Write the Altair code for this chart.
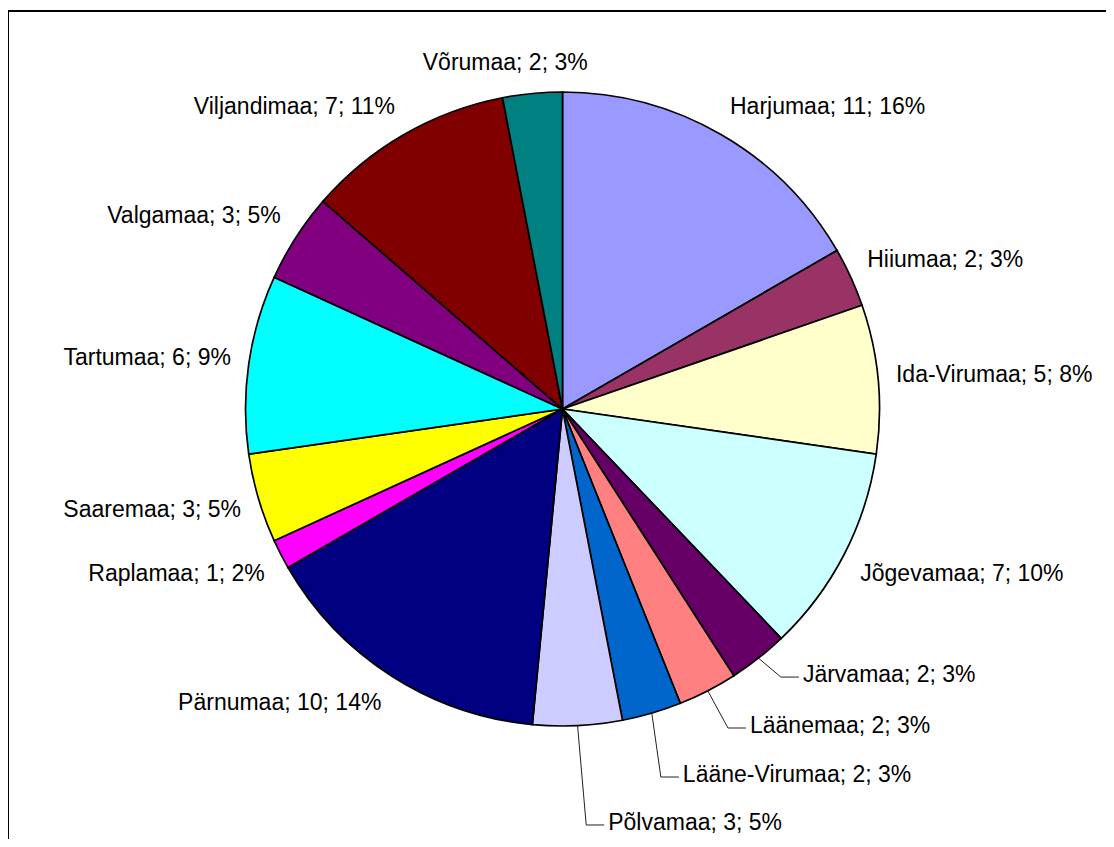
import math
import altair as alt
import pandas as pd

# ---- data ----
names = ["Harjumaa", "Hiiumaa", "Ida-Virumaa", "Jõgevamaa", "Järvamaa", "Läänemaa",
         "Lääne-Virumaa", "Põlvamaa", "Pärnumaa", "Raplamaa", "Saaremaa", "Tartumaa",
         "Valgamaa", "Viljandimaa", "Võrumaa"]
values = [11, 2, 5, 7, 2, 2, 2, 3, 10, 1, 3, 6, 3, 7, 2]
pct_labels = ["16%", "3%", "8%", "10%", "3%", "3%", "3%", "5%", "14%", "2%", "5%",
              "9%", "5%", "11%", "3%"]
colors = ["#9999FF", "#993366", "#FFFFCC", "#CCFFFF", "#660066", "#FF8080", "#0066CC",
          "#CCCCFF", "#000080", "#FF00FF", "#FFFF00", "#00FFFF", "#800080", "#800000",
          "#008080"]

# ---- layout constants ----
W, H = 1098, 831
CX, CY = 554.5, 401.0   # pie centre within the plot area
R = 317                 # pie radius
FONT = "Liberation Sans"
FS = 23
LABEL_D = 335           # distance of the label box's nearest corner from the centre
HALF_H = 12             # half height of a label box
# labels that were dragged away from their default place: (angle deg, distance, align)
moved = {
    "Järvamaa": (137.9, 358.6, "left"),
    "Läänemaa": (149.4, 368.3, "left"),
    "Lääne-Virumaa": (161.8, 385.3, "left"),
    "Põlvamaa": (173.7, 416.5, "left"),
    "Võrumaa": (350.6, 350.7, "center"),
}
leader_names = ["Järvamaa", "Läänemaa", "Lääne-Virumaa", "Põlvamaa"]

total = sum(values)
pie_df = pd.DataFrame({"name": names, "value": values, "idx": list(range(len(names)))})

# label positions derived from the slice mid-angles
rows, lines = [], []
cum = 0.0
for i, (n, v, p) in enumerate(zip(names, values, pct_labels)):
    mid = (cum + v / 2) / total * 360.0
    cum += v
    t = math.radians(mid)
    if n in moved:
        a, d, align = moved[n]
        ta = math.radians(a)
        lx, ly = d * math.sin(ta), d * math.cos(ta)
    else:
        c = math.cos(t)
        lx = LABEL_D * math.sin(t)
        ly = LABEL_D * c + HALF_H * math.copysign(min(1.0, 2 * abs(c)), c)
        align = "left" if math.sin(t) > 0 else "right"
    rows.append({"label": f"{n}; {v}; {p}", "x": lx, "y": ly, "align": align})
    if n in leader_names:
        pts = [(R * math.sin(t), R * math.cos(t)), (lx - 22, ly - 2), (lx - 4, ly - 2)]
        for k, (px, py) in enumerate(pts):
            lines.append({"name": n, "k": k, "x": px, "y": py})

lab_df = pd.DataFrame(rows)
line_df = pd.DataFrame(lines)

xs = alt.Scale(domain=[-CX, W - CX], nice=False, zero=False)
ys = alt.Scale(domain=[-(H - CY), CY], nice=False, zero=False)

pie = alt.Chart(pie_df).mark_arc(stroke="black", strokeWidth=1.7, outerRadius=R).encode(
    theta=alt.Theta("value:Q", stack=True),
    order=alt.Order("idx:Q"),
    color=alt.Color("name:N", scale=alt.Scale(domain=names, range=colors), legend=None),
    x=alt.value(CX),
    y=alt.value(CY),
)

leaders = alt.Chart(line_df).mark_line(color="#222222", strokeWidth=1).encode(
    x=alt.X("x:Q", scale=xs, axis=None),
    y=alt.Y("y:Q", scale=ys, axis=None),
    detail="name:N",
    order="k:Q",
)

def text_layer(al):
    return alt.Chart(lab_df).transform_filter(f"datum.align == '{al}'").mark_text(
        align=al, baseline="middle", font=FONT, fontSize=FS, color="black"
    ).encode(
        x=alt.X("x:Q", scale=xs, axis=None),
        y=alt.Y("y:Q", scale=ys, axis=None),
        text="label:N",
    )

frame = alt.Chart(pie_df).mark_rect(filled=False, stroke="black", strokeWidth=2).encode(
    x=alt.value(0), x2=alt.value(W + 40), y=alt.value(3), y2=alt.value(H + 40)
)

chart = alt.layer(
    pie, leaders, text_layer("left"), text_layer("right"), text_layer("center"), frame
).properties(
    width=W, height=H, padding=0, autosize=alt.AutoSizeParams(type="none")
).configure_view(strokeOpacity=0)

chart.save("out.html", embed_options={"renderer": "svg", "actions": False})
